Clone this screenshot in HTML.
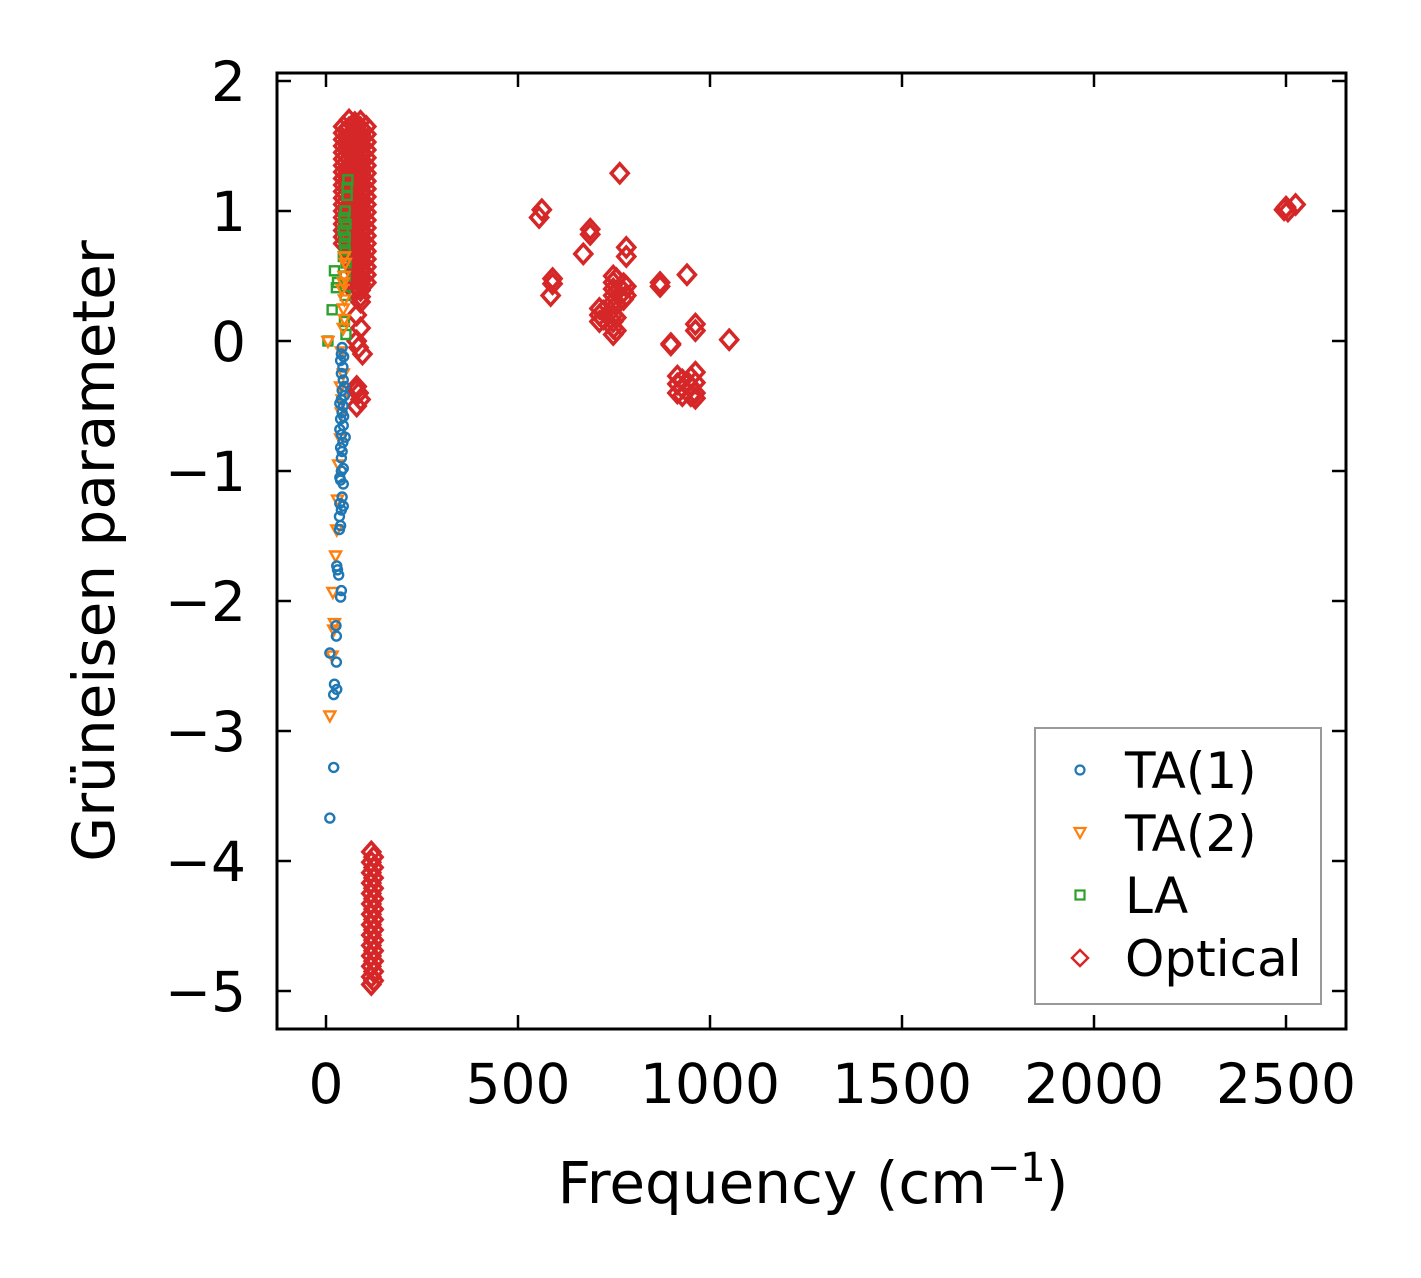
<!DOCTYPE html>
<html><head><meta charset="utf-8"><style>
body{margin:0;background:#fff}
svg text{font-family:"DejaVu Sans","Liberation Sans",sans-serif;fill:#000}
</style></head><body>
<svg id="chart" width="1421" height="1278" viewBox="0 0 1421 1278" xmlns="http://www.w3.org/2000/svg" style="position:absolute;left:0;top:0">
<rect width="1421" height="1278" fill="#fff"/>
<g id="marks"></g>
<g id="axes"></g>
</svg>
<script>
const xTicks=[0,500,1000,1500,2000,2500];
const yTicks=[2,1,0,-1,-2,-3,-4,-5];
const yTickLabels=["2","1","0","\u22121","\u22122","\u22123","\u22124","\u22125"];
const ta1=[[10,-3.67],[20,-3.28],[20,-2.72],[22,-2.64],[28,-2.68],[27,-2.47],[10,-2.4],[27,-2.27],[26,-2.19],[38,-1.97],[40,-1.92],[33,-1.8],[28,-1.73],[30,-1.76],[35,-1.45],[38,-1.42],[40,-1.3],[45,-1.27],[36,-1.25],[42,-1.2],[38,-1.07],[40,-1.0],[45,-0.98],[40,-0.9],[38,-0.82],[42,-0.85],[40,-0.72],[45,-0.65],[38,-0.6],[42,-0.55],[45,-0.5],[40,-0.45],[48,-0.42],[42,-0.38],[45,-0.3],[40,-0.25],[44,-0.2],[38,-0.15],[42,-0.05],[40,-0.1],[48,-0.35],[50,-0.74],[35,-1.35],[45,-1.1],[36,-1.05],[44,-0.78],[36,-0.68],[46,-0.58],[36,-0.48],[46,-0.12]];
const ta2=[[10,-2.88],[16,-2.42],[20,-2.22],[22,-2.17],[18,-1.93],[25,-1.65],[28,-1.45],[30,-1.22],[33,-0.95],[38,-0.75],[40,-0.55],[42,-0.45],[38,-0.35],[45,-0.25],[40,-0.08],[45,0.1],[48,0.17],[45,0.25],[48,0.32],[42,0.4],[45,0.45],[47,0.5],[50,0.6],[48,0.65],[5,0.0]];
const la=[[5,0.0],[16,0.24],[22,0.54],[27,0.41],[30,0.45],[50,0.7],[50,0.8],[52,0.9],[50,1.0],[55,1.12],[55,1.18],[57,1.24],[48,0.75],[52,0.6],[50,0.5],[50,0.35],[48,0.15],[52,0.05],[45,0.85],[47,0.95],[45,0.65]];
// optical branch: groups of [frequency, gamma values]
const optGroups=[
 [45,[1.65,1.6,1.55,1.5,1.45,1.4,1.35,1.3,1.25,1.2,1.15,1.1,1.05,1.0,0.95,0.9,0.85,0.8,0.75]],
 [60,[1.70,1.64,1.58,1.52,1.46,1.40,1.34,1.28,1.22,1.16,1.10,1.04,0.98,0.92,0.86,0.80,0.74,0.68,0.62]],
 [75,[1.68,1.63,1.58,1.53,1.48,1.43,1.38,1.33,1.28,1.23,1.18,1.13,1.08,1.03,0.98,0.93,0.88,0.83,0.78,0.73,0.68,0.63,0.58,0.53,0.48,0.43,0.38]],
 [90,[1.69,1.64,1.59,1.54,1.49,1.44,1.39,1.34,1.29,1.24,1.19,1.14,1.09,1.04,0.99,0.94,0.89,0.84,0.79,0.74,0.69,0.64,0.59,0.54,0.49,0.44,0.39,0.34,0.30]],
 [105,[1.65,1.59,1.53,1.47,1.41,1.35,1.29,1.23,1.17,1.11,1.05,0.99,0.93,0.87,0.81,0.75,0.69,0.63,0.57,0.51,0.45]],
 [80,[0.2,0.0,-0.35,-0.5]],[90,[0.1,-0.45]],[85,[-0.05,-0.4]],[95,[-0.1]],[78,[-0.38]],
 [118,[-3.93,-4.01,-4.09,-4.17,-4.25,-4.33,-4.41,-4.49,-4.57,-4.65,-4.73,-4.81,-4.89,-4.95]],
 [124,[-3.97,-4.05,-4.13,-4.21,-4.29,-4.37,-4.45,-4.53,-4.61,-4.69,-4.77,-4.85,-4.92]],
 [555,[0.95]],[562,[1.01]],[585,[0.35]],[590,[0.44,0.48]],[670,[0.67]],[688,[0.82,0.86]],
 [712,[0.15,0.2,0.25]],[722,[0.17,0.23]],
 [748,[0.05,0.1,0.15,0.2,0.25,0.3,0.35,0.4,0.45,0.5]],[756,[0.08,0.18,0.28,0.38,0.48]],
 [765,[1.29]],[775,[0.32,0.38,0.44]],[782,[0.35,0.42,0.65,0.72]],
 [870,[0.42,0.45]],[898,[-0.03,-0.02]],[940,[0.51]],
 [915,[-0.27,-0.33,-0.4]],[928,[-0.3,-0.36,-0.42]],[950,[-0.28,-0.35,-0.42]],[962,[-0.24,-0.32,-0.4,-0.44]],
 [962,[0.08,0.13]],[1050,[0.01]],
 [2495,[1.01]],[2500,[1.03]],[2505,[1.0]],[2525,[1.05]]
];
const X0=277,X1=1346,Y0=73,Y1=1029;
const xs=v=>326+v*0.384;
const ys=v=>341-v*130;
const NS="http://www.w3.org/2000/svg";
const marks=document.getElementById('marks'),axes=document.getElementById('axes');
function mk(tag,attrs,parent){const e=document.createElementNS(NS,tag);for(const k in attrs)e.setAttribute(k,attrs[k]);parent.appendChild(e);return e;}
function marker(type,cx,cy,parent){
  let e;
  if(type==='circle'){e=mk('circle',{cx:cx,cy:cy,r:4.5,fill:'none',stroke:'#1f77b4','stroke-width':2.4},parent);}
  else if(type==='tri'){e=mk('polygon',{points:`${cx-5.5},${cy-4} ${cx+5.5},${cy-4} ${cx},${cy+6}`,fill:'none',stroke:'#ff7f0e','stroke-width':2.4},parent);}
  else if(type==='square'){e=mk('rect',{x:cx-4.5,y:cy-4.5,width:9,height:9,fill:'none',stroke:'#2ca02c','stroke-width':2.4},parent);}
  else {e=mk('polygon',{points:`${cx},${cy-9.5} ${cx+8.5},${cy} ${cx},${cy+9.5} ${cx-8.5},${cy}`,fill:'none',stroke:'#d62728','stroke-width':3.5},parent);}
  return e;
}
const cp=mk('clipPath',{id:'clip'},marks);mk('rect',{x:X0,y:Y0,width:X1-X0,height:Y1-Y0},cp);
const g=mk('g',{'clip-path':'url(#clip)'},marks);
optGroups.forEach(grp=>{grp[1].forEach(v=>{const e=marker('diamond',xs(grp[0]),ys(v),g);

});});
la.forEach(p=>{const e=marker('square',xs(p[0]),ys(p[1]),g);

});
ta2.forEach(p=>{const e=marker('tri',xs(p[0]),ys(p[1]),g);

});
ta1.forEach(p=>{const e=marker('circle',xs(p[0]),ys(p[1]),g);

});
const fr=mk('rect',{x:X0,y:Y0,width:X1-X0,height:Y1-Y0,fill:'none',stroke:'#000','stroke-width':3},axes);


xTicks.forEach(v=>{const x=xs(v);
mk('line',{x1:x,x2:x,y1:Y1,y2:Y1-14,stroke:'#000','stroke-width':2.5},axes);
mk('line',{x1:x,x2:x,y1:Y0,y2:Y0+14,stroke:'#000','stroke-width':2.5},axes);
const t=mk('text',{x:x,y:1103,'text-anchor':'middle','font-size':55},axes);t.textContent=v;

});
yTicks.forEach((v,i)=>{const y=ys(v);
mk('line',{x1:X0,x2:X0+14,y1:y,y2:y,stroke:'#000','stroke-width':2.5},axes);
mk('line',{x1:X1,x2:X1-14,y1:y,y2:y,stroke:'#000','stroke-width':2.5},axes);
const t=mk('text',{x:246,y:y+20,'text-anchor':'end','font-size':55},axes);t.textContent=yTickLabels[i];

});
</script>
<svg style="position:absolute;left:0;top:0" width="1421" height="1278">
<text x="813" y="1203" text-anchor="middle" font-size="58">Frequency (cm<tspan dy="-22" font-size="40">−1</tspan><tspan dy="22">)</tspan></text>
<text transform="translate(114,551) rotate(-90)" text-anchor="middle" font-size="58">Grüneisen parameter</text>
<g>
<rect x="1035" y="728" width="286" height="276" fill="#fff" stroke="#999" stroke-width="2"/>
<circle cx="1080" cy="770" r="4.5" fill="none" stroke="#1f77b4" stroke-width="2.2"/>
<text x="1125" y="788" font-size="50">TA(1)</text>
<polygon points="1074.5,828 1085.5,828 1080,838" fill="none" stroke="#ff7f0e" stroke-width="2.2"/>
<text x="1125" y="851" font-size="50">TA(2)</text>
<rect x="1075.5" y="890.5" width="9" height="9" fill="none" stroke="#2ca02c" stroke-width="2.2"/>
<text x="1125" y="913" font-size="50">LA</text>
<polygon points="1080,950 1088,958 1080,966 1072,958" fill="none" stroke="#d62728" stroke-width="2.5"/>
<text x="1125" y="976" font-size="50">Optical</text>
</g>
</svg>
</body></html>
